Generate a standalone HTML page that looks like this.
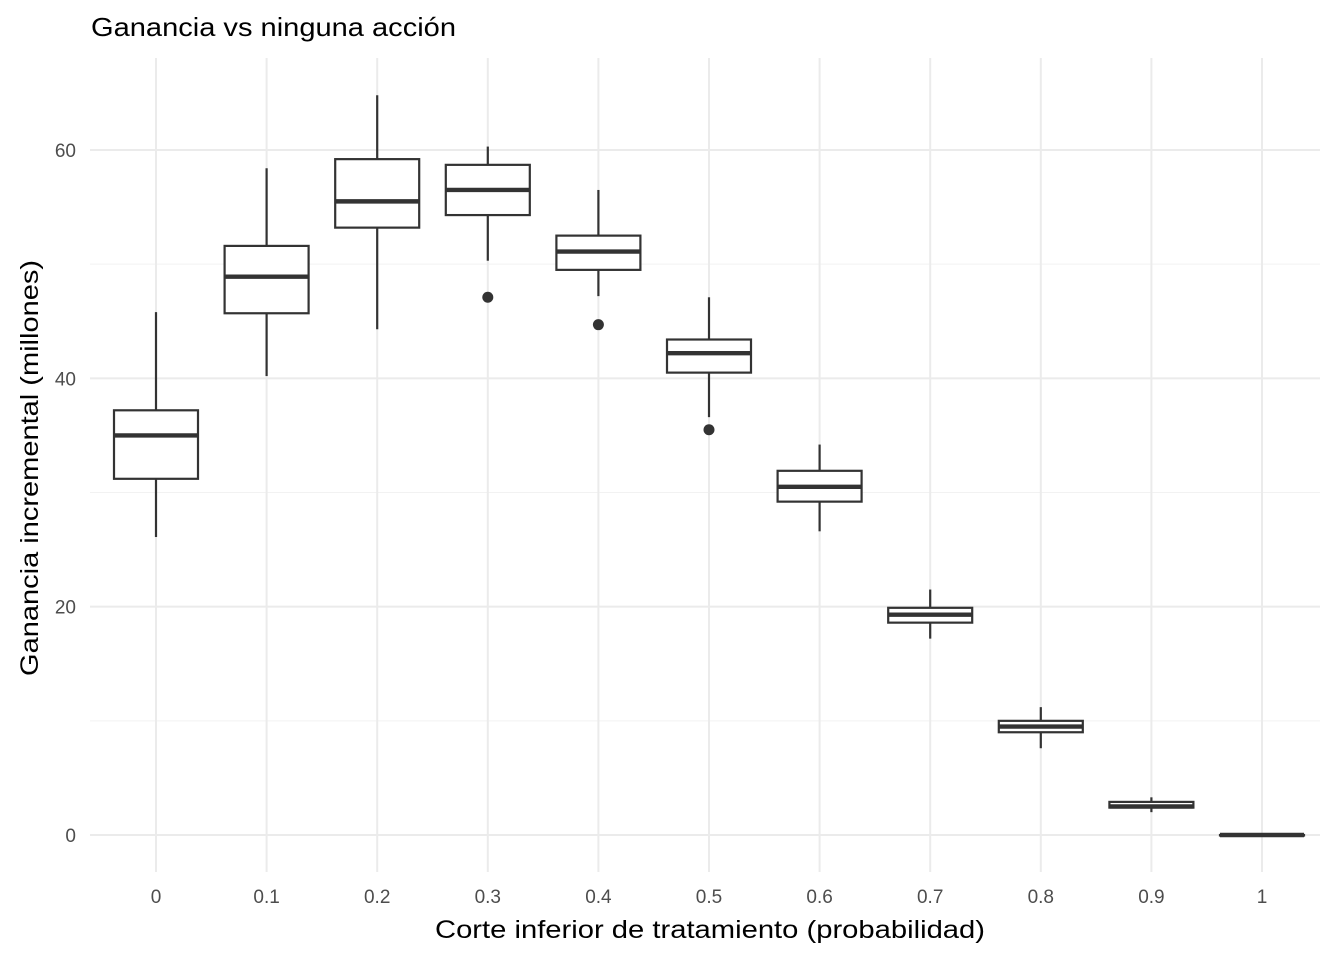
<!DOCTYPE html>
<html><head><meta charset="utf-8"><style>
html,body{margin:0;padding:0;background:#fff;}
svg{display:block;font-family:"Liberation Sans",Arial,sans-serif;}
</style></head><body>
<svg id="chart" width="1344" height="960">
<g id="grid"></g>
<g id="boxes"></g>
<g id="ticks"></g>
<text x="91" y="36" font-size="26" fill="#000" textLength="365" lengthAdjust="spacingAndGlyphs">Ganancia vs ninguna acción</text>
<text x="710" y="938" font-size="25" fill="#000" text-anchor="middle" textLength="550" lengthAdjust="spacingAndGlyphs">Corte inferior de tratamiento (probabilidad)</text>
<text transform="translate(38,468) rotate(-90)" font-size="25" fill="#000" text-anchor="middle" textLength="416" lengthAdjust="spacingAndGlyphs">Ganancia incremental (millones)</text>
</svg>
<script>
const categories = ["0","0.1","0.2","0.3","0.4","0.5","0.6","0.7","0.8","0.9","1"];
const lowWhisker = [26.1,40.2,44.3,50.3,47.2,36.6,26.6,17.2,7.6,2.0,0];
const q1 = [31.2,45.7,53.2,54.3,49.5,40.5,29.2,18.6,9.0,2.4,0];
const median = [35.0,48.9,55.5,56.5,51.1,42.2,30.5,19.3,9.5,2.5,0];
const q3 = [37.2,51.6,59.2,58.7,52.5,43.4,31.9,19.9,10.0,2.9,0];
const highWhisker = [45.8,58.4,64.8,60.3,56.5,47.1,34.2,21.5,11.2,3.3,0];
const outlierCat = ["0.3","0.4","0.5"];
const outlierVal = [47.1,44.7,35.5];
const yTicks = [0,20,40,60];
const yMinor = [10,30,50];

const NS="http://www.w3.org/2000/svg";
const panelLeft=90,panelRight=1320,panelTop=58,panelBottom=872;
const yScale=v=>835-v*(835-150)/60;
const xScale=i=>156+i*(1262-156)/10;
const bw=84;
function mk(tag,attrs,parent){const e=document.createElementNS(NS,tag);for(const k in attrs)e.setAttribute(k,attrs[k]);parent.appendChild(e);return e;}
const grid=document.getElementById('grid'),boxes=document.getElementById('boxes'),ticks=document.getElementById('ticks');
yMinor.forEach(v=>{const l=mk('line',{x1:panelLeft,x2:panelRight,y1:yScale(v),y2:yScale(v),stroke:'#f2f2f2','stroke-width':1},grid);

});
yTicks.forEach(v=>{const l=mk('line',{x1:panelLeft,x2:panelRight,y1:yScale(v),y2:yScale(v),stroke:'#ebebeb','stroke-width':2},grid);


const t=mk('text',{x:76,y:yScale(v)+7,'font-size':19,fill:'#4d4d4d','text-anchor':'end'},ticks);t.textContent=v;

});
categories.forEach((c,i)=>{const x=xScale(i);
const l=mk('line',{x1:x,x2:x,y1:panelTop,y2:panelBottom,stroke:'#ebebeb','stroke-width':2},grid);


const t=mk('text',{x:x,y:903,'font-size':19,fill:'#4d4d4d','text-anchor':'middle'},ticks);t.textContent=c;


const g=mk('g',{},boxes);


mk('line',{x1:x,x2:x,y1:yScale(highWhisker[i]),y2:yScale(q3[i]),stroke:'#333','stroke-width':2.2},g);
mk('line',{x1:x,x2:x,y1:yScale(q1[i]),y2:yScale(lowWhisker[i]),stroke:'#333','stroke-width':2.2},g);
const h=Math.max(yScale(q1[i])-yScale(q3[i]),0.5);
mk('rect',{x:x-bw/2,y:yScale(q3[i]),width:bw,height:h,fill:'#fff',stroke:'#333','stroke-width':2.2},g);
mk('line',{x1:x-bw/2,x2:x+bw/2,y1:yScale(median[i]),y2:yScale(median[i]),stroke:'#333','stroke-width':4.4},g);
});
outlierCat.forEach((c,j)=>{const i=categories.indexOf(c);
const p=mk('circle',{cx:xScale(i),cy:yScale(outlierVal[j]),r:5.5,fill:'#333'},boxes);

});
</script>
</body></html>
